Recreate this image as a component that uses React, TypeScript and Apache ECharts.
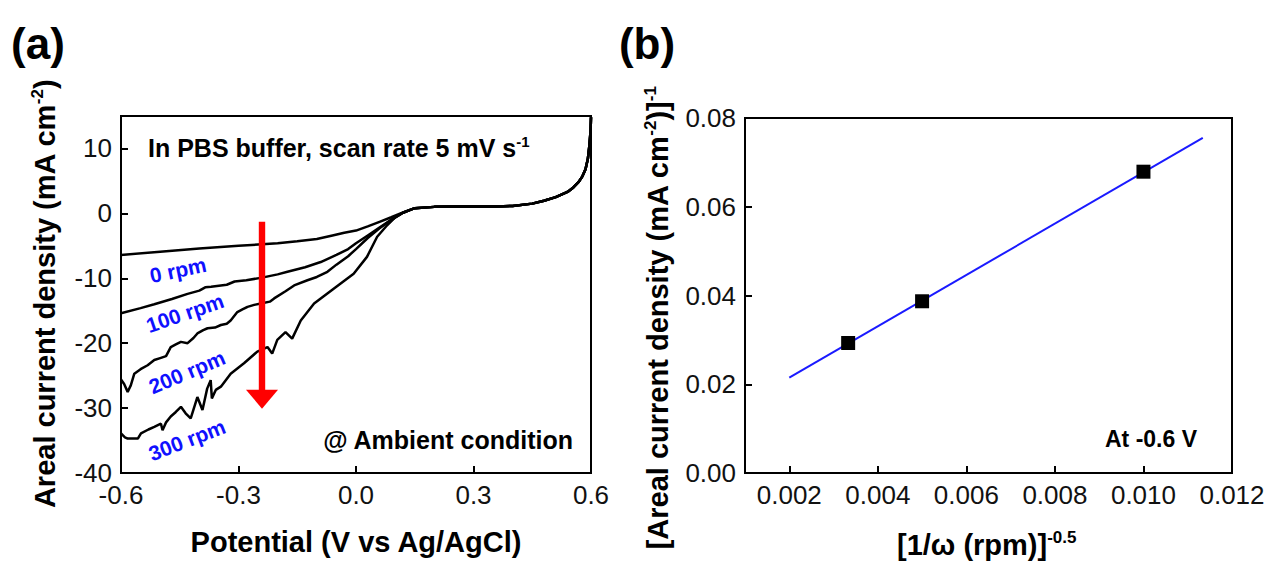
import React, { useEffect, useRef } from "react";
import * as echarts from "echarts";

// ---------- Data (a): LSV curves, potential (V) vs current density (mA cm-2) ----------
const anodicBranch: number[][] = [
  [0.15, 0.8], [0.2, 1.0], [0.25, 1.05], [0.3, 1.05], [0.36, 1.05], [0.4, 1.15],
  [0.45, 1.5], [0.48, 1.95], [0.51, 2.5], [0.54, 3.3], [0.555, 4.0], [0.568, 4.8],
  [0.578, 5.7], [0.586, 6.8], [0.592, 8.4], [0.596, 10.5], [0.599, 12.8], [0.6, 14.8],
];
const lsv0rpm: number[][] = [
  [-0.6, -6.4], [-0.5, -5.9], [-0.4, -5.4], [-0.3, -5.0], [-0.25, -4.8], [-0.2, -4.6],
  [-0.15, -4.3], [-0.1, -3.95], [-0.06, -3.4], [-0.03, -3.0], [0.0, -2.65], [0.03, -2.0],
  [0.06, -1.3], [0.09, -0.6], [0.12, 0.15],
];
const lsv100rpm: number[][] = [
  [-0.6, -15.4], [-0.55, -14.6], [-0.515, -14.0], [-0.47, -13.2], [-0.43, -12.4],
  [-0.4, -11.9], [-0.385, -11.4], [-0.37, -11.3], [-0.33, -11.0], [-0.31, -10.5],
  [-0.28, -10.3], [-0.24, -9.9], [-0.2, -9.4], [-0.175, -9.0], [-0.13, -8.3],
  [-0.09, -7.5], [-0.05, -6.4], [-0.02, -5.5], [0.0, -4.6], [0.03, -3.4], [0.06, -2.2],
  [0.09, -1.0], [0.12, 0.1],
];
const lsv200rpm: number[][] = [
  [-0.6, -25.6], [-0.592, -26.3], [-0.583, -27.5], [-0.575, -26.5], [-0.566, -24.7],
  [-0.55, -24.0], [-0.532, -23.4], [-0.515, -22.6], [-0.5, -22.3], [-0.485, -22.0],
  [-0.473, -20.6], [-0.46, -20.2], [-0.447, -19.8], [-0.43, -20.0], [-0.415, -19.2],
  [-0.405, -18.5], [-0.39, -18.0], [-0.379, -17.7], [-0.36, -17.6], [-0.345, -17.2],
  [-0.33, -17.0], [-0.32, -16.5], [-0.303, -15.2], [-0.29, -14.8], [-0.277, -14.4],
  [-0.26, -14.1], [-0.243, -13.9], [-0.22, -13.6], [-0.209, -13.1], [-0.18, -12.0],
  [-0.158, -11.1], [-0.124, -10.3], [-0.1, -9.8], [-0.073, -9.0], [-0.05, -7.9],
  [-0.02, -6.6], [0.0, -5.5], [0.03, -3.8], [0.06, -2.3], [0.09, -1.0], [0.12, 0.1],
];
const lsv300rpm: number[][] = [
  [-0.6, -33.9], [-0.59, -34.5], [-0.583, -34.7], [-0.557, -34.7], [-0.549, -33.9],
  [-0.53, -33.3], [-0.515, -32.9], [-0.498, -32.4], [-0.494, -33.4], [-0.485, -32.2],
  [-0.473, -31.3], [-0.46, -30.6], [-0.447, -29.8], [-0.435, -30.8], [-0.422, -31.6],
  [-0.405, -28.3], [-0.392, -30.3], [-0.38, -27.0], [-0.371, -25.7], [-0.368, -28.5],
  [-0.358, -27.2], [-0.345, -26.7], [-0.32, -24.7], [-0.286, -23.1], [-0.252, -21.3],
  [-0.226, -20.6], [-0.214, -21.6], [-0.201, -19.5], [-0.18, -18.3], [-0.163, -19.3],
  [-0.141, -16.5], [-0.107, -13.9], [-0.057, -11.6], [-0.006, -9.3], [0.028, -6.7],
  [0.054, -3.6], [0.08, -1.8], [0.1, -0.6], [0.12, 0.1],
];
const rpmLabels = ["0 rpm", "100 rpm", "200 rpm", "300 rpm"];
// red arrow: x position, start y, tip y (data units)
const arrowSpan = [-0.24, -1.3, -30.1];

// ---------- Data (b): Koutecky-Levich ----------
const invOmega = [0.00333, 0.005, 0.01];
const invCurrent = [0.0293, 0.0387, 0.0679];
const fitX = [0.002, 0.01134];
const fitY = [0.0215, 0.0755];
const rightXTicks = [0.002, 0.004, 0.006, 0.008, 0.01, 0.012];

const FONT = "'Liberation Sans', Arial, Helvetica, sans-serif";
const TICK_FS = 26;
const TITLE_FS = 29;

const axisCommon = {
  type: "value" as const,
  axisLine: { show: true, onZero: false, lineStyle: { color: "#000", width: 2 } },
  axisTick: { show: true, inside: true, length: 7, lineStyle: { color: "#000", width: 2 } },
  splitLine: { show: false },
};
const labelCommon = { fontSize: TICK_FS, color: "#111", fontFamily: FONT, margin: 9 };

function richStyles(fs: number, supFs: number) {
  return {
    b: { fontSize: fs, fontWeight: "bold", fontFamily: FONT, fill: "#000", lineHeight: fs + 4 },
    s: { fontSize: supFs, fontWeight: "bold", fontFamily: FONT, fill: "#000", lineHeight: supFs, verticalAlign: "top" },
  };
}

export default function App() {
  const ref = useRef<HTMLDivElement>(null);
  useEffect(() => {
    const chart = echarts.init(ref.current!, null, { renderer: "svg" });
    const curves = [lsv0rpm, lsv100rpm, lsv200rpm, lsv300rpm];
    const option: any = {
      animation: false,
      backgroundColor: "#fff",
      grid: [
        { left: 121, top: 116, width: 470, height: 357, show: true, borderColor: "#000", borderWidth: 2, backgroundColor: "transparent" },
        { left: 745, top: 118, width: 487, height: 355, show: true, borderColor: "#000", borderWidth: 2, backgroundColor: "transparent" },
      ],
      xAxis: [
        {
          ...axisCommon, gridIndex: 0, min: -0.6, max: 0.6, interval: 0.3,
          axisLabel: { ...labelCommon, formatter: (v: number) => v.toFixed(1) },
        },
        {
          ...axisCommon, gridIndex: 1, min: 0.001, max: 0.012,
          axisTick: { ...axisCommon.axisTick, customValues: rightXTicks },
          axisLabel: { ...labelCommon, customValues: rightXTicks, formatter: (v: number) => v.toFixed(3) },
        },
      ],
      yAxis: [
        {
          ...axisCommon, gridIndex: 0, min: -40, max: 15, interval: 10,
          axisLabel: { ...labelCommon, formatter: (v: number) => (v > 10 ? "" : String(v)) },
        },
        {
          ...axisCommon, gridIndex: 1, min: 0, max: 0.08, interval: 0.02,
          axisLabel: { ...labelCommon, formatter: (v: number) => v.toFixed(2) },
        },
      ],
      series: [
        ...curves.map((c, i) => ({
          type: "line",
          name: rpmLabels[i],
          xAxisIndex: 0,
          yAxisIndex: 0,
          data: [...c, ...anodicBranch],
          showSymbol: false,
          symbol: "none",
          lineStyle: { color: "#000", width: 2.5 },
          z: 2,
        })),
        {
          type: "custom",
          xAxisIndex: 0,
          yAxisIndex: 0,
          data: [arrowSpan],
          encode: { x: 0, y: [1, 2] },
          clip: false,
          z: 5,
          renderItem: (_p: any, api: any) => {
            const top = api.coord([api.value(0), api.value(1)]);
            const tip = api.coord([api.value(0), api.value(2)]);
            const headLen = 19, headHalf = 16, shaftHalf = 3.2;
            return {
              type: "group",
              children: [
                { type: "rect", shape: { x: top[0] - shaftHalf, y: top[1], width: shaftHalf * 2, height: tip[1] - headLen - top[1] + 1 }, style: { fill: "#ff0000" } },
                { type: "polygon", shape: { points: [[tip[0] - headHalf, tip[1] - headLen], [tip[0] + headHalf, tip[1] - headLen], [tip[0], tip[1]]] }, style: { fill: "#ff0000" } },
              ],
            };
          },
        },
        {
          type: "line",
          xAxisIndex: 1,
          yAxisIndex: 1,
          data: fitX.map((x, i) => [x, fitY[i]]),
          showSymbol: false,
          symbol: "none",
          lineStyle: { color: "#1a1aff", width: 2 },
          z: 2,
        },
        {
          type: "scatter",
          xAxisIndex: 1,
          yAxisIndex: 1,
          data: invOmega.map((x, i) => [x, invCurrent[i]]),
          symbol: "rect",
          symbolSize: 14,
          itemStyle: { color: "#000", opacity: 1 },
          z: 3,
        },
      ],
      graphic: [
        { type: "text", x: 38, y: 43, style: { text: "(a)", font: `bold 44px ${FONT}`, fill: "#000", align: "center", verticalAlign: "middle" } },
        { type: "text", x: 647, y: 43, style: { text: "(b)", font: `bold 44px ${FONT}`, fill: "#000", align: "center", verticalAlign: "middle" } },
        // left y title
        {
          type: "text", x: 45, y: 294, rotation: Math.PI / 2,
          style: { text: "{b|Areal current density (mA cm}{s|-2}{b|)}", rich: richStyles(TITLE_FS, 17), align: "center", verticalAlign: "middle" },
        },
        // left x title
        { type: "text", x: 356, y: 542, style: { text: "Potential (V vs Ag/AgCl)", font: `bold ${TITLE_FS}px ${FONT}`, fill: "#000", align: "center", verticalAlign: "middle" } },
        // right y title
        {
          type: "text", x: 658, y: 318, rotation: Math.PI / 2,
          style: { text: "{b|[Areal current density (mA cm}{s|-2}{b|)]}{s|-1}", rich: richStyles(TITLE_FS, 17), align: "center", verticalAlign: "middle" },
        },
        // right x title
        {
          type: "text", x: 897, y: 545,
          style: { text: "{b|[1/ω (rpm)]}{s|-0.5}", rich: richStyles(TITLE_FS, 17), align: "left", verticalAlign: "middle" },
        },
        // annotations
        {
          type: "text", x: 148, y: 148,
          style: { text: "{b|In PBS buffer, scan rate 5 mV s}{s|-1}", rich: richStyles(25, 15), align: "left", verticalAlign: "middle" },
        },
        { type: "text", x: 573, y: 440, style: { text: "@ Ambient condition", font: `bold 25px ${FONT}`, fill: "#000", align: "right", verticalAlign: "middle" } },
        { type: "text", x: 1197, y: 439, style: { text: "At -0.6 V", font: `bold 23px ${FONT}`, fill: "#000", align: "right", verticalAlign: "middle" } },
        // rpm labels
        { type: "text", x: 178, y: 270, rotation: 0.21, style: { text: rpmLabels[0], font: `bold 21px ${FONT}`, fill: "#1010ff", align: "center", verticalAlign: "middle" } },
        { type: "text", x: 185, y: 313, rotation: 0.33, style: { text: rpmLabels[1], font: `bold 21px ${FONT}`, fill: "#1010ff", align: "center", verticalAlign: "middle" } },
        { type: "text", x: 187, y: 372, rotation: 0.4, style: { text: rpmLabels[2], font: `bold 21px ${FONT}`, fill: "#1010ff", align: "center", verticalAlign: "middle" } },
        { type: "text", x: 187, y: 440, rotation: 0.37, style: { text: rpmLabels[3], font: `bold 21px ${FONT}`, fill: "#1010ff", align: "center", verticalAlign: "middle" } },
      ],
    };
    chart.setOption(option);
    return () => chart.dispose();
  }, []);
  return (
    <div
      ref={ref}
      style={{ position: "fixed", left: 0, top: 0, width: 1272, height: 572, background: "#fff" }}
    />
  );
}
